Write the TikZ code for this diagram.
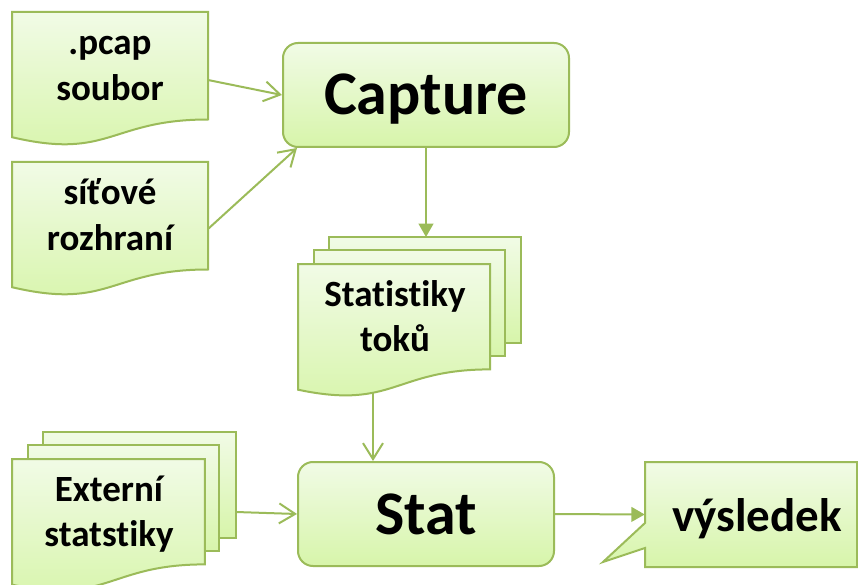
\documentclass[tikz,border=0pt]{standalone}
\usepackage{fontspec}
\setmainfont{Carlito}[Ligatures={NoCommon}]
\usetikzlibrary{arrows.meta,calc}
\definecolor{gborder}{RGB}{155,187,89}
\definecolor{ftop}{RGB}{241,251,230}
\definecolor{fbot}{RGB}{215,245,170}
\begin{document}
\begin{tikzpicture}[x=0.75pt,y=-0.75pt,
  gshape/.style={draw=gborder, line width=1.5pt, top color=ftop, bottom color=fbot},
  proc/.style={gshape, rounded corners=11.25pt, inner sep=0pt,
    font=\fontsize{46.5}{56}\selectfont\bfseries, text height=30pt, text depth=0pt},
  doctext/.style={font=\fontsize{27.75}{34}\selectfont\bfseries, align=center, inner sep=0pt},
  openarrow/.style={draw=gborder, line width=1.5pt, -{Straight Barb[length=12pt,width=15pt]}},
  fillarrow/.style={draw=gborder, line width=1.5pt, -{Triangle[length=10pt,width=11pt]}}
]
\useasboundingbox (0,0) rectangle (858,585);
\clip (0,0) rectangle (858,585);

% .pcap soubor document
\draw[gshape] (12,12) -- (208,12) -- (208,119.5) .. controls (110,119.5) and (110,160.3) .. (12,137.2) -- cycle;
\node[doctext] (pcap) at (110,68.4) {\strut .pcap\\\strut soubor};
\coordinate (pcapR) at (208,80);

% sitove rozhrani document
\draw[gshape] (12,162) -- (208,162) -- (208,269.5) .. controls (110,269.5) and (110,310.3) .. (12,287.2) -- cycle;
\node[doctext] (sit) at (110,218.4) {\strut síťové\\\strut rozhraní};
\coordinate (sitR) at (208,229);

% Capture
\node[proc, minimum width=214.5pt, minimum height=78pt] (capture) at (426,95) {Capture};

% Statistiky toku multidocument
\draw[gshape] (328.7,237) rectangle (521,342.7);
\draw[gshape] (313.8,250.3) rectangle (504.5,356.4);
\draw[gshape] (298,264) -- (490,264) -- (490,369.4) .. controls (394,369.4) and (394,410) .. (298,389.7) -- cycle;
\node[doctext] (toky) at (395,319.6) {\strut Statistiky\\\strut toků};
\coordinate (statTop) at (426,237);
\coordinate (tokyB) at (373,393);

% Externi statstiky multidocument
\draw[gshape] (42.8,432) rectangle (236,537.7);
\draw[gshape] (27.9,445.3) rectangle (219.4,551.4);
\draw[gshape] (12,459) -- (204.8,459) -- (204.8,564.4) .. controls (108.4,564.4) and (108.4,605) .. (12,584.7) -- cycle;
\node[doctext] (ext) at (109,515.1) {\strut Externí\\\strut statstiky};
\coordinate (extR) at (236,512);

% Stat
\node[proc, minimum width=192pt, minimum height=78pt] (stat) at (426,514) {Stat};

% vysledek callout
\draw[gshape] (645,462) -- (857,462) -- (857,567) -- (645,567) -- (645,548) -- (603,562) -- (645,523) -- cycle;
\node[minimum width=159pt, minimum height=78.75pt, inner sep=0pt] (vys) at (751,514.5) {};
\node[font=\fontsize{35.25}{42}\selectfont\bfseries, anchor=base, inner sep=0pt] (vystext) at (757,531) {výsledek};

% connectors
\draw[openarrow] (pcapR) -- (capture.west);
\draw[openarrow] (sitR) -- ($(capture.south west)+(15,0)$);
\draw[fillarrow] (capture.south) -- (statTop);
\draw[openarrow] (tokyB) -- (tokyB |- stat.north);
\draw[openarrow] (extR) -- (stat.west);
\draw[fillarrow] (stat.east) -- (vys.west);
\end{tikzpicture}
\end{document}
